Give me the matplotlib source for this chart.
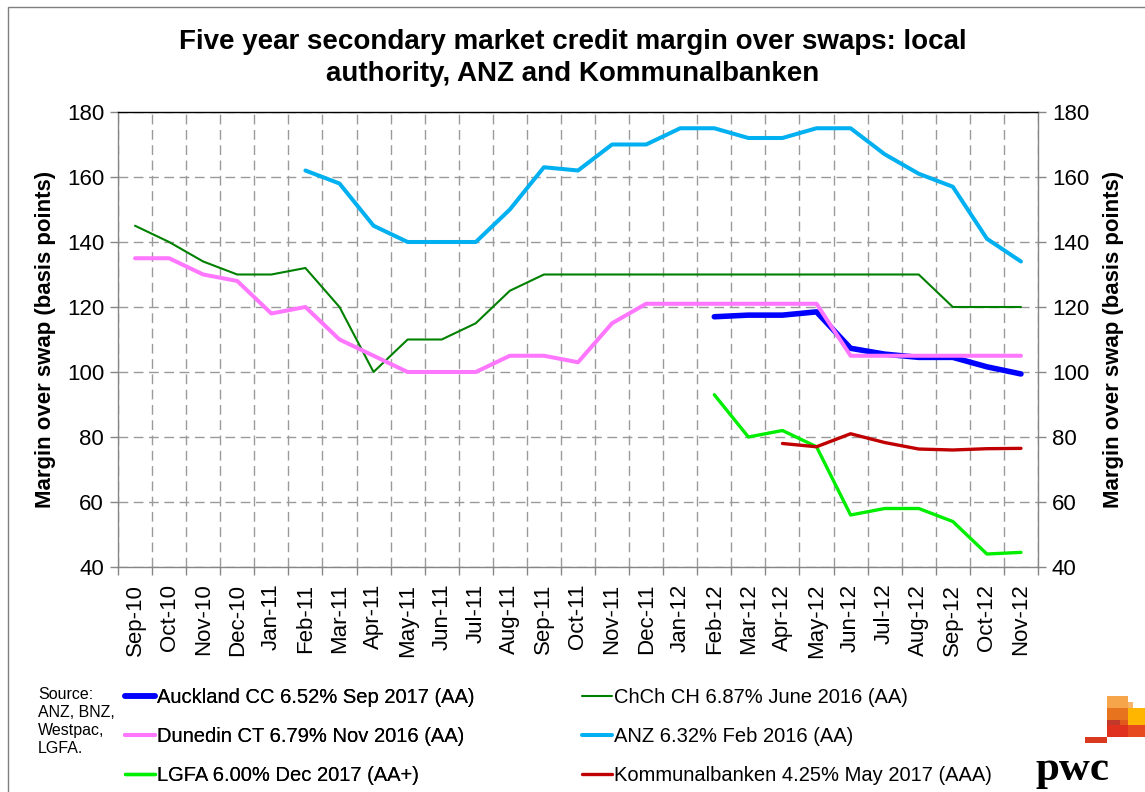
import numpy as np
import matplotlib
matplotlib.use("Agg")
import matplotlib.pyplot as plt
from matplotlib.patches import Rectangle

plt.rcParams['font.family'] = ['Liberation Sans', 'DejaVu Sans']

# ---- data (basis points over swap, monthly) ----
months = ['Sep-10', 'Oct-10', 'Nov-10', 'Dec-10', 'Jan-11', 'Feb-11', 'Mar-11',
          'Apr-11', 'May-11', 'Jun-11', 'Jul-11', 'Aug-11', 'Sep-11', 'Oct-11',
          'Nov-11', 'Dec-11', 'Jan-12', 'Feb-12', 'Mar-12', 'Apr-12', 'May-12',
          'Jun-12', 'Jul-12', 'Aug-12', 'Sep-12', 'Oct-12', 'Nov-12']

auckland = [None, None, None, None, None, None, None, None, None, None,
            None, None, None, None, None, None, None,
            117, 117.5, 117.5, 118.5, 107.3, 105.5, 104.5, 104.5, 101.6, 99.4]
chch = [145, 140, 134, 130, 130, 132, 120, 100, 110, 110, 115, 125, 130, 130,
        130, 130, 130, 130, 130, 130, 130, 130, 130, 130, 120, 120, 120]
dunedin = [135, 135, 130, 128, 118, 120, 110, 105, 100, 100, 100, 105, 105, 103,
           115, 121, 121, 121, 121, 121, 121, 105, 105, 105, 105, 105, 105]
anz = [None, None, None, None, None,
       162, 158, 145, 140, 140, 140, 150, 163, 162, 170, 170, 175, 175, 172,
       172, 175, 175, 167, 161, 157, 141, 134]
lgfa = [None, None, None, None, None, None, None, None, None, None,
        None, None, None, None, None, None, None,
        93, 80, 82, 77, 56, 58, 58, 54, 44, 44.5]
kommunal = [None, None, None, None, None, None, None, None, None, None,
            None, None, None, None, None, None, None, None, None,
            78, 77, 81, 78.3, 76.3, 76, 76.4, 76.5]

labels = ['Auckland CC 6.52% Sep 2017 (AA)', 'ChCh CH 6.87% June 2016 (AA)',
          'Dunedin CT 6.79% Nov 2016 (AA)', 'ANZ 6.32% Feb 2016 (AA)',
          'LGFA 6.00% Dec 2017 (AA+)', 'Kommunalbanken 4.25% May 2017 (AAA)']

W, H = 1145, 792
def fx(px):
    return px / W
def fy(py):
    return 1 - py / H

fig = plt.figure(figsize=(W / 100, H / 100), dpi=100)

# outer chart border (left and top visible)
fig.patches.append(Rectangle((fx(8), fy(800)), fx(1160) - fx(8), fy(7) - fy(800),
                             transform=fig.transFigure, fill=False,
                             edgecolor='#7f7f7f', lw=1.0))

ax = fig.add_axes([fx(118), fy(567), fx(1038) - fx(118), fy(112) - fy(567)])

x = np.arange(len(months))
def arr(v):
    return np.array([np.nan if a is None else a for a in v], dtype=float)

series = [
    (auckland, '#0000ff', 4.0),
    (chch, '#008000', 1.5),
    (dunedin, '#ff77ff', 2.9),
    (anz, '#00b0f0', 2.9),
    (lgfa, '#00ee00', 2.4),
    (kommunal, '#c00000', 2.4),
]
handles = []
for (vals, col, lw), lab in zip(series, labels):
    ln, = ax.plot(x, arr(vals), color=col, lw=lw, label=lab,
                  solid_joinstyle='round', solid_capstyle='round')
    handles.append(ln)

ax.set_xlim(-0.5, len(months) - 0.5)
ax.set_ylim(40, 180)
ax.set_yticks(np.arange(40, 181, 20))
ax.set_xticks(x)
ax.set_xticklabels(months, rotation=90, fontsize=16)
ax.set_xticks(np.arange(-0.5, len(months), 1.0), minor=True)
ax.tick_params(axis='x', which='major', length=0, pad=12)
ax.tick_params(axis='x', which='minor', length=6, color='#868686', width=1)
ax.tick_params(axis='y', which='major', length=6, color='#868686', width=1,
               labelsize=16, pad=4)

ax.grid(True, axis='x', which='minor', ls=(0, (7, 4)), color='#9a9a9a', lw=1.0)
ax.grid(True, axis='y', which='major', ls=(0, (7, 4)), color='#9a9a9a', lw=1.0)
ax.set_axisbelow(True)

for s in ['left', 'right', 'bottom']:
    ax.spines[s].set_color('#868686')
    ax.spines[s].set_linewidth(1.0)
ax.spines['top'].set_color('black')
ax.spines['top'].set_linewidth(1.0)

ax.set_ylabel('Margin over swap (basis points)', fontsize=16, fontweight='bold',
              labelpad=8)

ax2 = ax.twinx()
ax2.set_ylim(40, 180)
ax2.set_yticks(np.arange(40, 181, 20))
ax2.tick_params(axis='y', length=6, color='#868686', width=1, labelsize=16, pad=4)
for s in ax2.spines.values():
    s.set_visible(False)
ax2.set_ylabel('Margin over swap (basis points)', fontsize=16, fontweight='bold',
               rotation=90, labelpad=10)

fig.text(0.5, fy(29), 'Five year secondary market credit margin over swaps: local\n'
         'authority, ANZ and Kommunalbanken', ha='center', va='top',
         fontsize=20, fontweight='bold', linespacing=1.3)

# legend in two columns
leg_kw = dict(loc='upper left', frameon=False, fontsize=14.5, handlelength=1.5,
              handletextpad=0.1, labelspacing=1.0, borderpad=0, borderaxespad=0)
leg1 = fig.legend(handles=[handles[0], handles[2], handles[4]],
                  labels=[labels[0], labels[2], labels[4]],
                  bbox_to_anchor=(fx(125), fy(688)), **leg_kw)
leg2 = fig.legend(handles=[handles[1], handles[3], handles[5]],
                  labels=[labels[1], labels[3], labels[5]],
                  bbox_to_anchor=(fx(582), fy(688)), **leg_kw)
fig.add_artist(leg1)

fig.text(fx(38), fy(687), 'Source:\nANZ, BNZ,\nWestpac,\nLGFA.', ha='left', va='top',
         fontsize=11.5, linespacing=1.25)

# PwC mark
blocks = [
    (1107, 696, 21, 12, '#f6a54a'),
    (1128, 702, 5, 6, '#f8b46a'),
    (1107, 708, 21, 12, '#e8731e'),
    (1128, 708, 17, 17, '#ffb600'),
    (1107, 720, 13, 7, '#c0392b'),
    (1120, 720, 8, 5, '#e05a1e'),
    (1107, 725, 38, 12, '#e0301e'),
    (1128, 725, 17, 12, '#e64a1e'),
    (1085, 737, 22, 6, '#d93a1f'),
]
for bx, by, bw, bh, bc in blocks:
    fig.patches.append(Rectangle((fx(bx), fy(by + bh)), bw / W, bh / H,
                                 transform=fig.transFigure, color=bc, lw=0))
fig.text(fx(1036), fy(780), 'pwc', ha='left', va='baseline', fontsize=31,
         fontweight='bold', family='Liberation Serif')

fig.savefig('out.png', dpi=100)
